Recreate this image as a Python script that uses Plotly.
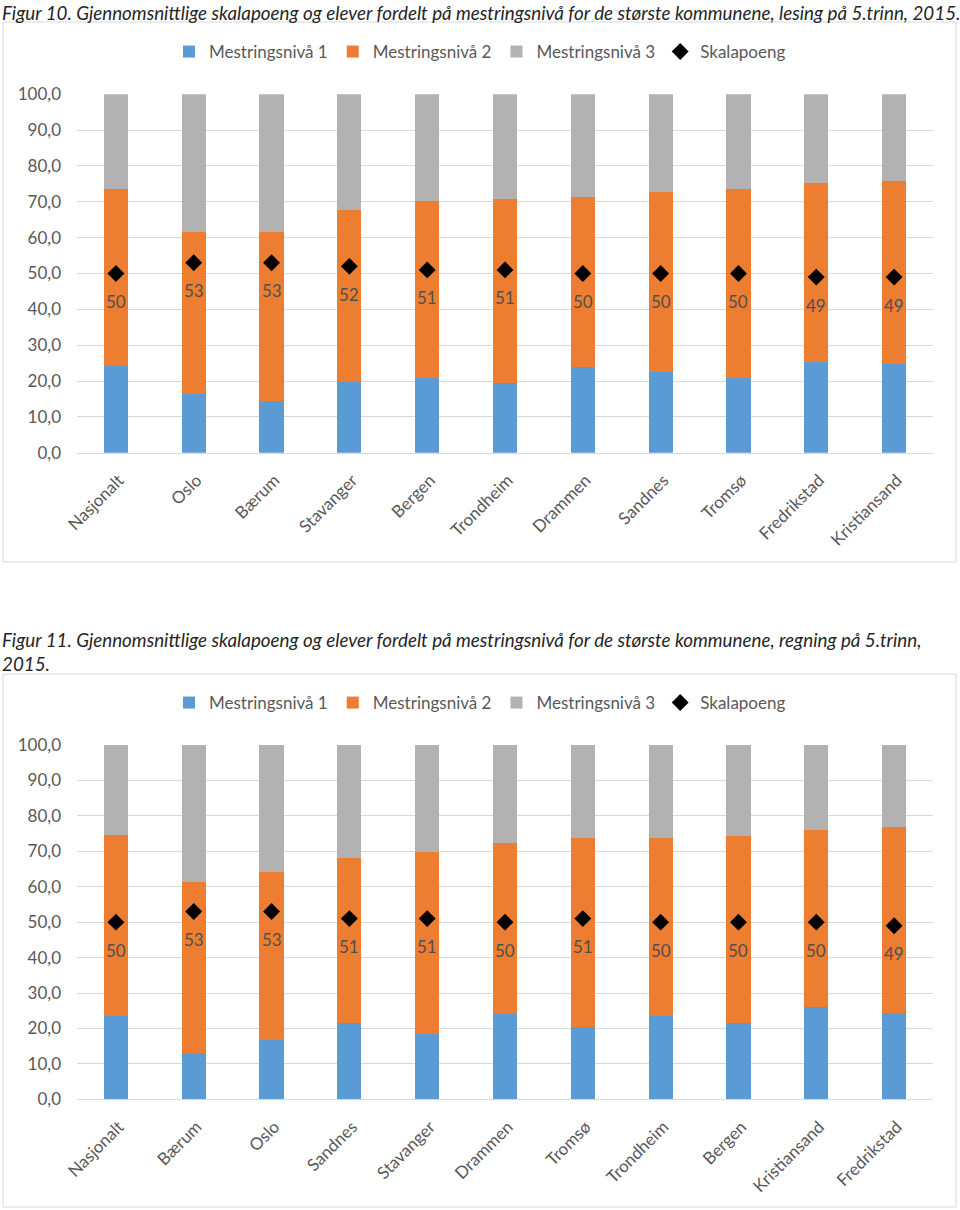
import plotly.graph_objects as go

# ---- Data: Figur 10 (lesing) ----
cats1 = ["Nasjonalt", "Oslo", "Bærum", "Stavanger", "Bergen", "Trondheim",
         "Drammen", "Sandnes", "Tromsø", "Fredrikstad", "Kristiansand"]
niva1_1 = [24.3, 16.3, 14.3, 19.7, 20.9, 19.4, 23.8, 22.4, 20.9, 25.3, 24.8]
niva2_1 = [49.3, 45.2, 47.2, 47.9, 49.4, 51.5, 47.5, 50.3, 52.8, 50.0, 50.9]
niva3_1 = [26.4, 38.5, 38.5, 32.4, 29.7, 29.1, 28.7, 27.3, 26.3, 24.7, 24.3]
score1 = [50, 53, 53, 52, 51, 51, 50, 50, 50, 49, 49]

# ---- Data: Figur 11 (regning) ----
cats2 = ["Nasjonalt", "Bærum", "Oslo", "Sandnes", "Stavanger", "Drammen",
         "Tromsø", "Trondheim", "Bergen", "Kristiansand", "Fredrikstad"]
niva1_2 = [23.6, 13.2, 16.7, 21.5, 18.4, 24.1, 20.3, 23.4, 21.5, 26.1, 24.4]
niva2_2 = [50.9, 48.0, 47.5, 46.5, 51.5, 48.2, 53.4, 50.4, 52.7, 50.0, 52.5]
niva3_2 = [25.5, 38.8, 35.8, 32.0, 30.1, 27.7, 26.3, 26.2, 25.8, 23.9, 23.1]
score2 = [50, 53, 53, 51, 51, 50, 51, 50, 50, 50, 49]

series_names = ["Mestringsnivå 1", "Mestringsnivå 2", "Mestringsnivå 3", "Skalapoeng"]
caption1 = "Figur 10. Gjennomsnittlige skalapoeng og elever fordelt på mestringsnivå for de største kommunene, lesing på 5.trinn, 2015."
caption2_l1 = "Figur 11. Gjennomsnittlige skalapoeng og elever fordelt på mestringsnivå for de største kommunene, regning på 5.trinn,"
caption2_l2 = "2015."

# ---- Styles ----
W, H = 960, 1210
colors = ["#5b9bd5", "#ed7d31", "#b2b2b2"]
txt = "#595959"
grid = "#d9d9d9"
FONT = "Lato, 'Open Sans', sans-serif"

def py(px):
    return 1 - px / H

def px_x(px):
    return px / W

fig = go.Figure()

datasets = [
    (cats1, [niva1_1, niva2_1, niva3_1], score1, "x", "y", "legend"),
    (cats2, [niva1_2, niva2_2, niva3_2], score2, "x2", "y2", "legend2"),
]

for cats, levels, score, xa, ya, lg in datasets:
    for i, vals in enumerate(levels):
        fig.add_trace(go.Bar(
            x=cats, y=vals, name=series_names[i], marker_color=colors[i],
            marker_line_width=0, xaxis=xa, yaxis=ya, legend=lg,
            hoverinfo="skip"))
    fig.add_trace(go.Scatter(
        x=cats, y=score, name=series_names[3], mode="markers",
        marker=dict(symbol="diamond", size=13, color="black"),
        xaxis=xa, yaxis=ya, legend=lg, hoverinfo="skip"))
    for c, s in zip(cats, score):
        fig.add_annotation(x=c, y=s, xref=xa, yref=ya, text=str(s),
                           showarrow=False, yshift=-28,
                           font=dict(size=17, color="#505050", family=FONT))

tickf = dict(size=17, color=txt, family=FONT)

def xaxis(anchor, n):
    return dict(domain=[px_x(77), px_x(933)], anchor=anchor, tickangle=-45,
                range=[-0.5, n - 0.5], autorange=False,
                showline=True, linecolor=grid, ticks="", showgrid=False,
                automargin=False, tickfont=tickf, fixedrange=True,
                ticklabelshift=3, ticklabelstandoff=10)

def yaxis(anchor, b, t):
    return dict(domain=[py(b), py(t)], anchor=anchor, range=[0, 100],
                dtick=10, tickformat=".1f", showgrid=True, gridcolor=grid,
                zeroline=False, ticks="", automargin=False, tickfont=tickf,
                ticklabelstandoff=15, fixedrange=True)

legf = dict(size=17, color=txt, family=FONT)

fig.update_layout(
    width=W, height=H,
    margin=dict(l=0, r=0, t=0, b=0),
    paper_bgcolor="white", plot_bgcolor="white",
    barmode="stack", bargap=0.69,
    separators=", ",
    font=dict(family=FONT, color=txt, size=16),
    xaxis=xaxis("y", len(cats1)),
    yaxis=yaxis("x", 452.7, 94.3),
    xaxis2=xaxis("y2", len(cats2)),
    yaxis2=yaxis("x2", 1099.3, 745),
    legend=dict(orientation="h", x=0.5, xanchor="center", y=py(52),
                yanchor="middle", font=legf, bgcolor="rgba(0,0,0,0)",
                traceorder="normal", itemwidth=30),
    legend2=dict(orientation="h", x=0.5, xanchor="center", y=py(703),
                 yanchor="middle", font=legf, bgcolor="rgba(0,0,0,0)",
                 traceorder="normal", itemwidth=30),
)

# chart boxes
for y0, y1 in [(22, 562), (674, 1207)]:
    fig.add_shape(type="rect", xref="paper", yref="paper",
                  x0=px_x(3), x1=px_x(956), y0=py(y1), y1=py(y0),
                  line=dict(color=grid, width=1), fillcolor="rgba(0,0,0,0)",
                  layer="below")

# captions
capf = dict(size=18.8, color="#262626", family=FONT)
fig.add_annotation(text="<i>" + caption1 + "</i>", xref="paper", yref="paper",
                   x=0, y=py(12), xanchor="left", yanchor="middle", showarrow=False,
                   align="left", font=capf)
fig.add_annotation(text="<i>" + caption2_l1 + "</i><br><i>" + caption2_l2 + "</i>",
                   xref="paper", yref="paper",
                   x=0, y=py(651), xanchor="left", yanchor="middle", showarrow=False,
                   align="left", font=capf)

fig.write_html("out.html", config={"displayModeBar": False},
               post_script="document.body.style.margin='0';")
